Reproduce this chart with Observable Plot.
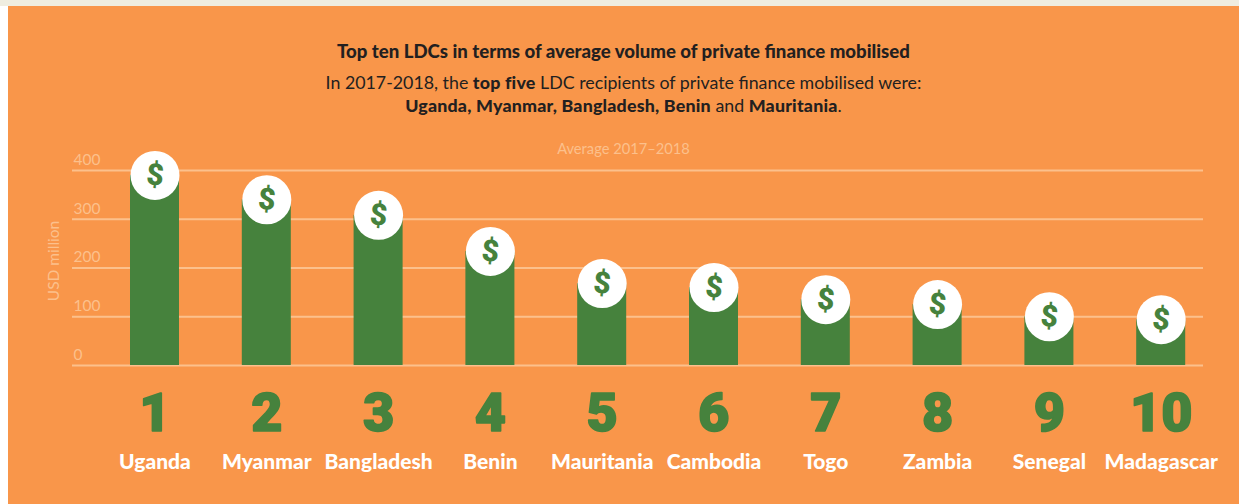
<!DOCTYPE html>
<html><head><meta charset="utf-8">
<script src="https://cdn.jsdelivr.net/npm/d3@7"></script>
<script src="https://cdn.jsdelivr.net/npm/@observablehq/plot@0.6"></script>
<style>
html,body{margin:0;padding:0;background:#fff;}
#topband{height:6px;background:#efede0;}
#wrap{margin-left:8px;width:1231px;height:498px;background:#f9964a;overflow:hidden;font-family:Lato,sans-serif;text-align:center;color:#231f20;}
#t{padding-top:35px;font-size:18.6px;font-weight:900;line-height:20px;}
#s{margin-top:10px;font-size:17.8px;font-weight:400;line-height:23px;}
#s b{font-weight:900;letter-spacing:.2px;}
#a{margin-top:23px;font-size:14.7px;line-height:16px;color:#fcc08c;}
svg{display:block;}
</style></head><body>
<div id="topband"></div>
<div id="wrap">
<div id="t">Top ten LDCs in terms of average volume of private finance mobilised</div>
<div id="s">In 2017-2018, the <b>top five</b> LDC recipients of private finance mobilised were:<br><b>Uganda, Myanmar, Bangladesh, Benin</b> and <b>Mauritania</b>.</div>
<div id="a">Average 2017–2018</div>
<div id="c"></div>
</div>
<script>
const countries = ["Uganda","Myanmar","Bangladesh","Benin","Mauritania","Cambodia","Togo","Zambia","Senegal","Madagascar"];
const values = [390,340,308,234,168,160,135,125,100,94];
const ranks = [1,2,3,4,5,6,7,8,9,10];
const yTicks = [0,100,200,300,400];
const rows = countries.map((c,i)=>({country:c,value:values[i],rank:ranks[i]}));
const c = document.getElementById("c");
const top0 = c.getBoundingClientRect().top;
const H = 504 - top0;
const y0 = 365 - top0, y400 = 170 - top0;
const green = "#46823d", pale = "#fcc08c";
const chart = Plot.plot({
  width:1231, height:H,
  marginLeft:64, marginRight:36, marginTop:Math.max(0,y400-19), marginBottom:H-y0,
  style:{background:"transparent",fontFamily:"Lato,sans-serif",overflow:"visible"},
  x:{type:"band",domain:countries,range:[59.2,1240],padding:0.5617,round:false,axis:null},
  y:{domain:[0,400],range:[y0,y400]},
  marks:[
    Plot.ruleY(yTicks,{stroke:pale,strokeWidth:2}),
    Plot.axisY(yTicks,{anchor:"left",tickSize:0,textAnchor:"start",tickPadding:-1,dy:-10.5,fontSize:15.5,fill:pale,
      label:"USD million",labelAnchor:"center",labelArrow:"none",labelOffset:25}),
    Plot.barY(rows,{x:"country",y:"value",fill:green}),
    Plot.dot(rows,{x:"country",y:"value",r:24.5,fill:"#fff"}),
    Plot.text(rows,{x:"country",y:"value",text:()=>"$",fill:green,fontSize:30,fontWeight:900,fontFamily:"Roboto",rotate:4}),
    Plot.text(rows,{x:"country",y:()=>0,text:"rank",dy:48,fill:green,stroke:green,strokeWidth:1.6,fontSize:54,fontWeight:900,fontFamily:"Roboto"}),
    Plot.text(rows,{x:"country",y:()=>0,text:"country",dy:97,fill:"#fff",fontSize:21,fontWeight:900})
  ]
});
c.appendChild(chart);
</script>
</body></html>
